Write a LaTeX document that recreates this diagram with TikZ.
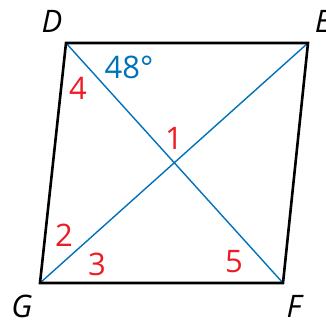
\documentclass[tikz,border=0pt]{standalone}
\usepackage{fontspec}
\setmainfont{Open Sans}
\usepackage{tikz}
\usetikzlibrary{positioning}
\definecolor{diagblue}{RGB}{0,114,188}
\definecolor{anglered}{RGB}{237,28,36}

\begin{document}
\begin{tikzpicture}[x=1pt, y=1pt,
  side/.style={draw=black, line width=2.6pt, line join=miter},
  diag/.style={draw=diagblue, line width=1.4pt},
  vlabel/.style={font=\fontsize{31}{34}\selectfont\itshape, text=black, inner sep=0pt},
  anglab/.style={font=\fontsize{31}{34}\selectfont, text=anglered, inner sep=0pt},
]
  \useasboundingbox (0,0) rectangle (326,325);

  % vertices of the rhombus
  \coordinate (D) at (66,282);
  \coordinate (E) at (308,282);
  \coordinate (F) at (283,42);
  \coordinate (G) at (40,42);

  \draw[diag] (D) -- (F);
  \draw[diag] (E) -- (G);
  \draw[side] (D) -- (E) -- (F) -- (G) -- cycle;

  % vertex names
  \node[vlabel] (lD) at (52,304) {D};
  \node[vlabel] (lE) at (323,304) {E};
  \node[vlabel] (lF) at (294,19) {F};
  \node[vlabel] (lG) at (22,19) {G};

  % angle marks
  \node[anglab, text=diagblue] (a48) at (129,258) {48°};
  \node[anglab] (a4) at (78,237) {4};
  \node[anglab] (a1) at (174,187) {1};
  \node[anglab] (a2) at (64,90) {2};
  \node[anglab] (a3) at (97,61) {3};
  \node[anglab] (a5) at (234,63) {5};
\end{tikzpicture}
\end{document}
